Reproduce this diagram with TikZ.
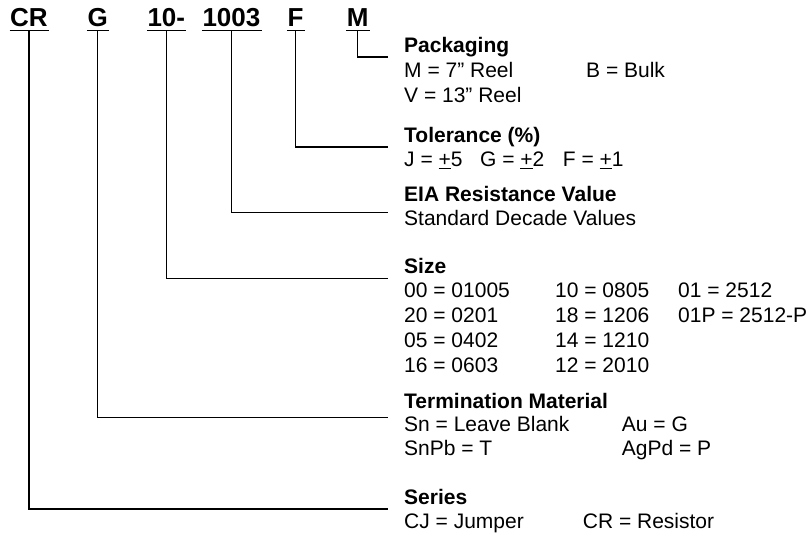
\documentclass[tikz,border=0pt]{standalone}
\usepackage{fontspec}
\setmainfont{Liberation Sans}
\usetikzlibrary{calc}
\tikzset{
  part/.style={font=\fontsize{26bp}{30bp}\selectfont\bfseries, inner sep=0pt, anchor=base west},
  ttl/.style={font=\fontsize{21bp}{24bp}\selectfont\bfseries, inner sep=0pt, anchor=base west},
  txt/.style={font=\fontsize{21bp}{24bp}\selectfont, inner sep=0pt, anchor=base west},
  conn/.style={line width=1.5bp},
  uline/.style={line width=1.6bp},
}
\begin{document}
\begin{tikzpicture}[x=1bp,y=-1bp]
\useasboundingbox (0,0) rectangle (809,537);
% part labels
\node[part] (cr)  at (10,26.5)    {CR};
\node[part] (g)   at (87.3,26.5)  {G};
\node[part] (ten) at (147.3,26.5) {10-};
\node[part] (dec) at (202.3,26.5) {1003};
\node[part] (f)   at (287.3,26.5) {F};
\node[part] (m)   at (346.7,26.5) {M};
\foreach \n in {cr,g,ten,dec,f,m}{
  \draw[uline] ($(\n.base west)+(-0.5,4)$) -- ($(\n.base east)+(1,4)$);
  \coordinate (u\n) at ($(\n.base west)!0.5!(\n.base east)+(0,4)$);
}
% packaging
\node[ttl] (tpack) at (404,52.7) {Packaging};
\node[txt] (p1) at (404,77.3) {M = 7” Reel};
\node[txt] (p2) at (586,77.3) {B = Bulk};
\node[txt] (p3) at (404,102.7) {V = 13” Reel};
% tolerance
\node[ttl] (ttol) at (404,142.7) {Tolerance (\%)};
\node[txt] (t1) at (404,166.7) {J = \underline{+}5};
\node[txt] (t2) at (480,166.7) {G = \underline{+}2};
\node[txt] (t3) at (562.7,166.7) {F = \underline{+}1};
% EIA
\node[ttl] (teia) at (404,201.7) {EIA Resistance Value};
\node[txt] (e1) at (404,226) {Standard Decade Values};
% size
\node[ttl] (tsize) at (404,273.3) {Size};
\node[txt] (s11) at (404,297.3) {00 = 01005};
\node[txt] (s12) at (404,322.7) {20 = 0201};
\node[txt] (s13) at (404,347.3) {05 = 0402};
\node[txt] (s14) at (404,372.7) {16 = 0603};
\node[txt] (s21) at (555,297.3) {10 = 0805};
\node[txt] (s22) at (555,322.7) {18 = 1206};
\node[txt] (s23) at (555,347.3) {14 = 1210};
\node[txt] (s24) at (555,372.7) {12 = 2010};
\node[txt] (s31) at (678,297.3) {01 = 2512};
\node[txt] (s32) at (678,322.7) {01P = 2512-P};
% termination
\node[ttl] (tterm) at (404,408) {Termination Material};
\node[txt] (m1) at (404,431.3) {Sn = Leave Blank};
\node[txt] (m2) at (404,455.3) {SnPb = T};
\node[txt] (m3) at (621.7,431.3) {Au = G};
\node[txt] (m4) at (621.7,455.3) {AgPd = P};
% series
\node[ttl] (tser) at (404,504) {Series};
\node[txt] (r1) at (404,528.3) {CJ = Jumper};
\node[txt] (r2) at (582.7,528.3) {CR = Resistor};
% connector ends
\coordinate (jm)   at (388,57);
\coordinate (jf)   at (388,147);
\coordinate (jdec) at (388,212.7);
\coordinate (jten) at (388,278.7);
\coordinate (jg)   at (388,417.7);
\coordinate (jcr)  at (388,509);
\draw[conn] (um)   |- (jm);
\draw[conn] (uf)   |- (jf);
\draw[conn] (udec) |- (jdec);
\draw[conn] (uten) |- (jten);
\draw[conn] (ug)   |- (jg);
\draw[conn] (ucr)  |- (jcr);
\end{tikzpicture}
\end{document}
